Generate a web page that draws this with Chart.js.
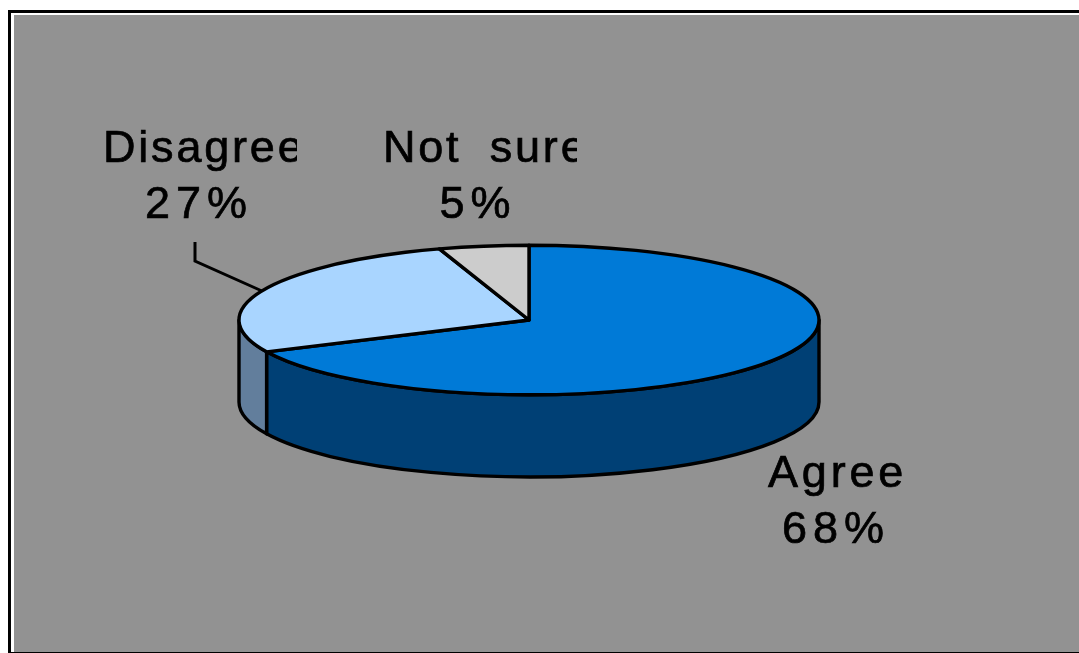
<!DOCTYPE html>
<html>
<head>
<meta charset="utf-8">
<title>Agree / Disagree / Not sure</title>
<style>
  html, body { margin: 0; padding: 0; background: #fff; overflow: hidden; }
  canvas { display: block; }
</style>
<script src="https://cdn.jsdelivr.net/npm/chart.js@4"></script>
</head>
<body>
<canvas id="pieChart" width="1079" height="653"></canvas>
<script>
const categories = ['Agree', 'Disagree', 'Not sure'];
const percents = [68, 27, 5];
const topColors = ['#007ad7', '#a9d5ff', '#cccccc'];
const sideColors = ['#004075', '#627e9c', '#8f8f8f'];

const SQUASH = 0.258;
const DEPTH = 82;
const LINE = 3.4;

// clip is the right edge where the label box cuts the first line off
const labelSpots = [
  { nameX: 768, pctX: 836, y1: 487, y2: 543, clip: null, spacing: '3.8px' },
  { nameX: 103, pctX: 199, y1: 162, y2: 218, clip: 297, spacing: '2.8px' },
  { nameX: 383, pctX: 478, y1: 162, y2: 218, clip: 577, spacing: '2.8px' }
];

function tiltedPie(chart) {
  const ctx = chart.ctx;
  const arcs = chart.getDatasetMeta(0).data;
  ctx.save();
  ctx.lineWidth = LINE;
  ctx.strokeStyle = '#000';
  ctx.lineJoin = 'round';

  // side walls, only the part facing the viewer (0 to PI on the canvas)
  arcs.forEach((arc, i) => {
    const from = Math.max(arc.startAngle, 0);
    const to = Math.min(arc.endAngle, Math.PI);
    if (to <= from) return;
    const rx = arc.outerRadius;
    const ry = rx * SQUASH;
    ctx.beginPath();
    ctx.ellipse(arc.x, arc.y, rx, ry, 0, from, to);
    ctx.ellipse(arc.x, arc.y + DEPTH, rx, ry, 0, to, from, true);
    ctx.closePath();
    ctx.fillStyle = sideColors[i];
    ctx.fill();
    ctx.stroke();
  });

  // top face
  arcs.forEach((arc, i) => {
    const rx = arc.outerRadius;
    const ry = rx * SQUASH;
    ctx.beginPath();
    ctx.moveTo(arc.x, arc.y);
    ctx.ellipse(arc.x, arc.y, rx, ry, 0, arc.startAngle, arc.endAngle);
    ctx.closePath();
    ctx.fillStyle = topColors[i];
    ctx.fill();
    ctx.stroke();
  });
  ctx.restore();
}

const tiltPlugin = {
  id: 'tilt',
  beforeDraw(chart) {
    const ctx = chart.ctx;
    ctx.save();
    ctx.fillStyle = '#fff';
    ctx.fillRect(0, 0, 1079, 653);
    ctx.fillStyle = '#000';
    ctx.fillRect(8, 10, 1071, 3);
    ctx.fillRect(8, 10, 3, 643);
    ctx.fillRect(8, 652, 1071, 1);
    ctx.fillStyle = '#929292';
    ctx.fillRect(14, 15, 1065, 637);
    ctx.restore();
  },
  beforeDatasetDraw(chart) {
    tiltedPie(chart);
    return false;
  },
  afterDraw(chart) {
    const ctx = chart.ctx;
    ctx.save();

    // leader line for Disagree
    ctx.strokeStyle = '#000';
    ctx.lineWidth = 3;
    ctx.beginPath();
    ctx.moveTo(195, 242);
    ctx.lineTo(195, 261);
    ctx.lineTo(262, 291);
    ctx.stroke();

    ctx.fillStyle = '#000';
    ctx.strokeStyle = '#000';
    ctx.lineWidth = 0.7;
    ctx.font = '45px "Liberation Sans"';
    categories.forEach((name, i) => {
      const spot = labelSpots[i];
      ctx.save();
      if (spot.clip) {
        ctx.beginPath();
        ctx.rect(0, 0, spot.clip, 653);
        ctx.clip();
      }
      ctx.textAlign = 'left';
      ctx.letterSpacing = spot.spacing;
      ctx.wordSpacing = name === 'Not sure' ? '13px' : '0px';
      ctx.fillText(name, spot.nameX, spot.y1);
      ctx.strokeText(name, spot.nameX, spot.y1);
      ctx.restore();
      ctx.textAlign = 'center';
      ctx.letterSpacing = '6px';
      const pct = percents[i] + '%';
      ctx.fillText(pct, spot.pctX, spot.y2);
      ctx.strokeText(pct, spot.pctX, spot.y2);
    });
    ctx.restore();
  }
};

document.addEventListener('DOMContentLoaded', () => {
  new Chart(document.getElementById('pieChart').getContext('2d'), {
    type: 'pie',
    data: {
      labels: categories,
      datasets: [{ data: percents, backgroundColor: topColors }]
    },
    options: {
      responsive: false,
      animation: false,
      layout: { padding: { left: 238, right: 259, top: 29, bottom: 42 } },
      plugins: {
        legend: { display: false },
        tooltip: { enabled: false }
      }
    },
    plugins: [tiltPlugin]
  });
});
</script>
</body>
</html>
